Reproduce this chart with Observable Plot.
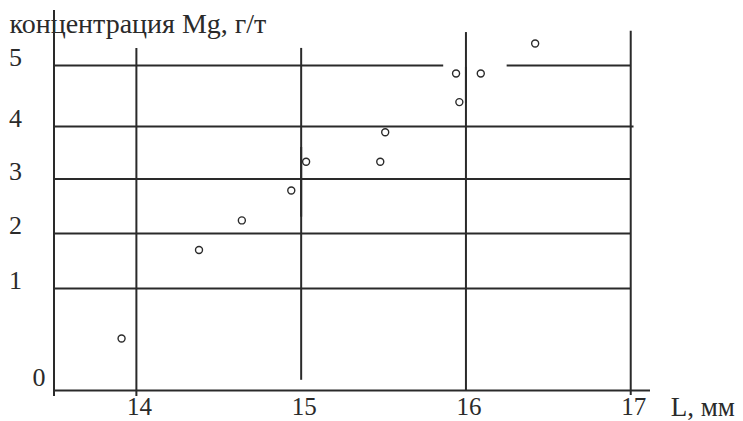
<!DOCTYPE html>
<html><head><meta charset="utf-8">
<script src="https://cdn.jsdelivr.net/npm/d3@7"></script>
<script src="https://cdn.jsdelivr.net/npm/@observablehq/plot@0.6"></script>
<style>body{margin:0;background:#fff}</style>
</head><body><div id="chart"></div>
<script>
// data
const L  = [13.91, 14.38, 14.64, 14.94, 15.03, 15.48, 15.51, 15.96, 15.94, 16.09, 16.42];
const Mg = [0.51, 1.70, 2.24, 2.79, 3.33, 3.33, 3.89, 4.40, 4.87, 4.87, 5.36];
const xTicks = [14, 15, 16, 17];
const yTicks = [1, 2, 3, 4, 5];
const yZero = [0];
const yTitle = "концентрация Mg, г/т";
const xTitle = "L, мм";
// drawn grid segments (as in the original drawing, with its gaps)
const hGridY  = [0, 1, 2, 3, 4, 5, 5];
const hGridX1 = [13.5, 13.5, 13.5, 13.5, 13.5, 13.5, 16.25];
const hGridX2 = [17.12, 17, 17, 17, 17.02, 15.865, 17];
const vGridX  = [13.5, 14, 15, 15, 16, 16, 17];
const vGridY1 = [-0.06, -0.06, 0.1, 2.3, 0, 4.38, -0.05];
const vGridY2 = [5.9, 5.28, 3.6, 5.28, 4.97, 5.54, 5.56];

const points = L.map((l, i) => ({L: l, Mg: Mg[i]}));
const hseg = hGridY.map((y, i) => ({y, x1: hGridX1[i], x2: hGridX2[i]}));
const vseg = vGridX.map((x, i) => ({x, y1: vGridY1[i], y2: vGridY2[i]}));
const ink = "#2a2a2a";
const font = "'Liberation Serif', 'Times New Roman', serif";

const chart = Plot.plot({
  width: 743, height: 421,
  margin: 0,
  x: {type: "linear", domain: [13.5, 17.12], range: [53.5, 650], axis: null},
  y: {type: "linear", domain: [0, 1, 2, 3, 4, 5, 6], range: [390, 288, 233, 178.5, 126, 65, 4], axis: null},
  style: {background: "#fff", fontFamily: font},
  marks: [
    Plot.ruleY(hseg, {y: "y", x1: "x1", x2: "x2", stroke: ink, strokeWidth: 2}),
    Plot.ruleX(vseg, {x: "x", y1: "y1", y2: "y2", stroke: ink, strokeWidth: 2}),
    Plot.dot(points, {x: "L", y: "Mg", r: 3.5, stroke: ink, fill: "white", strokeWidth: 1.4}),
    Plot.text(xTicks, {x: d => d, y: () => 0, text: d => String(d), dx: 3, dy: 16.5, fontSize: 25, fill: ink}),
    Plot.text([xTitle], {x: () => 17, y: () => 0, text: d => d, dx: 40, dy: 16.5, textAnchor: "start", fontSize: 27, fill: ink}),
    Plot.text(yTicks, {x: () => 13.5, y: d => d, text: d => String(d), dx: -38.5, dy: -7.5, fontSize: 26, fill: ink}),
    Plot.text(yZero, {x: () => 13.5, y: d => d, text: d => String(d), dx: -15, dy: -13, fontSize: 26, fill: ink}),
    Plot.text([yTitle], {frameAnchor: "top-left", text: d => d, dx: 9, dy: 13, textAnchor: "start", lineAnchor: "top", fontSize: 28, fill: ink})
  ]
});
document.getElementById("chart").appendChild(chart);
</script>
</body></html>
